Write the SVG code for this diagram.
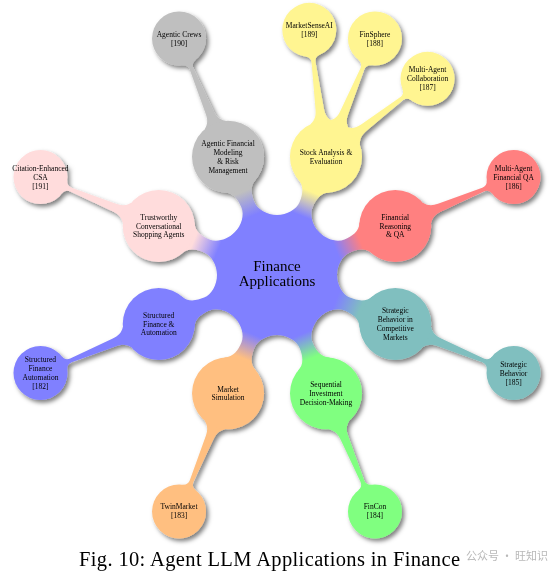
<svg xmlns="http://www.w3.org/2000/svg" xmlns:xlink="http://www.w3.org/1999/xlink" width="555" height="578" viewBox="0 0 555 578">
<style>
.t{font-family:"Liberation Serif","Times New Roman",serif;font-size:7.5px;text-anchor:middle;fill:#000}
.ct{font-family:"Liberation Serif","Times New Roman",serif;font-size:15px;text-anchor:middle;fill:#000}
.cap{font-family:"Liberation Serif","Times New Roman",serif;font-size:20.5px;fill:#000}
.wm{font-family:"Noto Sans CJK SC","Liberation Sans",sans-serif;font-size:11.5px;fill:#9a9a9a;opacity:0.7}
</style>
<defs>
<filter id="sh" filterUnits="userSpaceOnUse" x="0" y="0" width="555" height="578">
<feDropShadow dx="2.5" dy="2.8" stdDeviation="1.9" flood-color="#000" flood-opacity="0.5"/>
</filter>
<path id="c1" d="M55.43,-22.96 C59.3,-13.7 68,-7 76,-7 C84,-7 92.97,-8.83 96.27,-17 L128,0 L96.27,17 C92.97,8.830 84,7 76,7 C68,7 59.3,13.7 55.43,22.96 L0,0 Z"/>
<path id="c2" d="M34.28,-11 C38,-6 42,-4.5 48,-4.2 L95,-2 C98.5,-2 100.8,-3.5 101.92,-7 L128,0 L101.92,7 C100.8,3.5 98.5,2 95,2 L48,4.2 C42,4.5 38,6 34.28,11 L0,0 Z"/>
<linearGradient id="gR" gradientUnits="userSpaceOnUse" x1="64" y1="0" x2="90" y2="0"><stop offset="0" stop-color="#8080ff"/><stop offset="1" stop-color="#ff8080"/></linearGradient>
<linearGradient id="gY" gradientUnits="userSpaceOnUse" x1="64" y1="0" x2="90" y2="0"><stop offset="0" stop-color="#8080ff"/><stop offset="1" stop-color="#fff591"/></linearGradient>
<linearGradient id="gK" gradientUnits="userSpaceOnUse" x1="64" y1="0" x2="90" y2="0"><stop offset="0" stop-color="#8080ff"/><stop offset="1" stop-color="#bfbfbf"/></linearGradient>
<linearGradient id="gP" gradientUnits="userSpaceOnUse" x1="64" y1="0" x2="90" y2="0"><stop offset="0" stop-color="#8080ff"/><stop offset="1" stop-color="#ffdcdc"/></linearGradient>
<linearGradient id="gB" gradientUnits="userSpaceOnUse" x1="64" y1="0" x2="90" y2="0"><stop offset="0" stop-color="#8080ff"/><stop offset="1" stop-color="#8080ff"/></linearGradient>
<linearGradient id="gO" gradientUnits="userSpaceOnUse" x1="64" y1="0" x2="90" y2="0"><stop offset="0" stop-color="#8080ff"/><stop offset="1" stop-color="#ffbf80"/></linearGradient>
<linearGradient id="gG" gradientUnits="userSpaceOnUse" x1="64" y1="0" x2="90" y2="0"><stop offset="0" stop-color="#8080ff"/><stop offset="1" stop-color="#80ff80"/></linearGradient>
<linearGradient id="gT" gradientUnits="userSpaceOnUse" x1="64" y1="0" x2="90" y2="0"><stop offset="0" stop-color="#8080ff"/><stop offset="1" stop-color="#80bfbf"/></linearGradient>
</defs>
<rect width="555" height="578" fill="#fff"/>
<g filter="url(#sh)">
<g id="connectors">
<use xlink:href="#c1" transform="translate(277 275) rotate(-22.5)" fill="url(#gR)"/>
<use xlink:href="#c1" transform="translate(277 275) rotate(-67.5)" fill="url(#gY)"/>
<use xlink:href="#c1" transform="translate(277 275) rotate(-112.5)" fill="url(#gK)"/>
<use xlink:href="#c1" transform="translate(277 275) rotate(-157.5)" fill="url(#gP)"/>
<use xlink:href="#c1" transform="translate(277 275) rotate(157.5)" fill="url(#gB)"/>
<use xlink:href="#c1" transform="translate(277 275) rotate(112.5)" fill="url(#gO)"/>
<use xlink:href="#c1" transform="translate(277 275) rotate(67.5)" fill="url(#gG)"/>
<use xlink:href="#c1" transform="translate(277 275) rotate(22.5)" fill="url(#gT)"/>
<use xlink:href="#c2" transform="translate(228.02 156.74) rotate(-112.5)" fill="#bfbfbf"/>
<use xlink:href="#c2" transform="translate(158.74 226.02) rotate(-157.5)" fill="#ffdcdc"/>
<use xlink:href="#c2" transform="translate(325.98 156.74) rotate(-97.5)" fill="#fff591"/>
<use xlink:href="#c2" transform="translate(325.98 156.74) rotate(-67.5)" fill="#fff591"/>
<use xlink:href="#c2" transform="translate(325.98 156.74) rotate(-37.5)" fill="#fff591"/>
<use xlink:href="#c2" transform="translate(395.26 226.02) rotate(-22.5)" fill="#ff8080"/>
<use xlink:href="#c2" transform="translate(395.26 323.98) rotate(22.5)" fill="#80bfbf"/>
<use xlink:href="#c2" transform="translate(325.98 393.26) rotate(67.5)" fill="#80ff80"/>
<use xlink:href="#c2" transform="translate(228.02 393.26) rotate(112.5)" fill="#ffbf80"/>
<use xlink:href="#c2" transform="translate(158.74 323.98) rotate(157.5)" fill="#8080ff"/>
</g>
<g id="center">
<circle cx="277" cy="275" r="60" fill="#8080ff"/>
<text class="ct"><tspan x="277" y="271">Finance</tspan><tspan x="277" y="285.5">Applications</tspan></text>
</g>
<g id="n-modeling">
<circle cx="228.02" cy="156.74" r="36" fill="#bfbfbf"/>
<text class="t"><tspan x="228.02" y="146.1">Agentic Financial</tspan><tspan x="228.02" y="154.9">Modeling</tspan><tspan x="228.02" y="163.7">&amp; Risk</tspan><tspan x="228.02" y="172.5">Management</tspan></text>
</g>
<g id="n-stock">
<circle cx="325.98" cy="156.74" r="36" fill="#fff591"/>
<text class="t"><tspan x="325.98" y="154.9">Stock Analysis &amp;</tspan><tspan x="325.98" y="163.7">Evaluation</tspan></text>
</g>
<g id="n-reasoning">
<circle cx="395.26" cy="226.02" r="36" fill="#ff8080"/>
<text class="t"><tspan x="395.26" y="219.8">Financial</tspan><tspan x="395.26" y="228.6">Reasoning</tspan><tspan x="395.26" y="237.4">&amp; QA</tspan></text>
</g>
<g id="n-shopping">
<circle cx="158.74" cy="226.02" r="36" fill="#ffdcdc"/>
<text class="t"><tspan x="158.74" y="219.8">Trustworthy</tspan><tspan x="158.74" y="228.6">Conversational</tspan><tspan x="158.74" y="237.4">Shopping Agents</tspan></text>
</g>
<g id="n-structured">
<circle cx="158.74" cy="323.98" r="36" fill="#8080ff"/>
<text class="t"><tspan x="158.74" y="317.8">Structured</tspan><tspan x="158.74" y="326.6">Finance &amp;</tspan><tspan x="158.74" y="335.4">Automation</tspan></text>
</g>
<g id="n-strategic">
<circle cx="395.26" cy="323.98" r="36" fill="#80bfbf"/>
<text class="t"><tspan x="395.26" y="313.4">Strategic</tspan><tspan x="395.26" y="322.2">Behavior in</tspan><tspan x="395.26" y="331">Competitive</tspan><tspan x="395.26" y="339.8">Markets</tspan></text>
</g>
<g id="n-market">
<circle cx="228.02" cy="393.26" r="36" fill="#ffbf80"/>
<text class="t"><tspan x="228.02" y="391.5">Market</tspan><tspan x="228.02" y="400.3">Simulation</tspan></text>
</g>
<g id="n-sequential">
<circle cx="325.98" cy="393.26" r="36" fill="#80ff80"/>
<text class="t"><tspan x="325.98" y="387.1">Sequential</tspan><tspan x="325.98" y="395.9">Investment</tspan><tspan x="325.98" y="404.7">Decision-Making</tspan></text>
</g>
<g id="n-crews">
<circle cx="179.04" cy="38.48" r="27" fill="#bfbfbf"/>
<text class="t"><tspan x="179.04" y="36.6">Agentic Crews</tspan><tspan x="179.04" y="45.6">[190]</tspan></text>
</g>
<g id="n-csa">
<circle cx="40.48" cy="177.04" r="27" fill="#ffdcdc"/>
<text class="t"><tspan x="40.48" y="170.6">Citation-Enhanced</tspan><tspan x="40.48" y="179.6">CSA</tspan><tspan x="40.48" y="188.6">[191]</tspan></text>
</g>
<g id="n-marketsense">
<circle cx="309.27" cy="29.84" r="27" fill="#fff591"/>
<text class="t"><tspan x="309.27" y="27.9">MarketSenseAI</tspan><tspan x="309.27" y="36.9">[189]</tspan></text>
</g>
<g id="n-finsphere">
<circle cx="374.96" cy="38.48" r="27" fill="#fff591"/>
<text class="t"><tspan x="374.96" y="36.6">FinSphere</tspan><tspan x="374.96" y="45.6">[188]</tspan></text>
</g>
<g id="n-collab">
<circle cx="427.53" cy="78.82" r="27" fill="#fff591"/>
<text class="t"><tspan x="427.53" y="72.4">Multi-Agent</tspan><tspan x="427.53" y="81.4">Collaboration</tspan><tspan x="427.53" y="90.4">[187]</tspan></text>
</g>
<g id="n-mafqa">
<circle cx="513.52" cy="177.04" r="27" fill="#ff8080"/>
<text class="t"><tspan x="513.52" y="170.6">Multi-Agent</tspan><tspan x="513.52" y="179.6">Financial QA</tspan><tspan x="513.52" y="188.6">[186]</tspan></text>
</g>
<g id="n-sb">
<circle cx="513.52" cy="372.96" r="27" fill="#80bfbf"/>
<text class="t"><tspan x="513.52" y="366.6">Strategic</tspan><tspan x="513.52" y="375.6">Behavior</tspan><tspan x="513.52" y="384.6">[185]</tspan></text>
</g>
<g id="n-fincon">
<circle cx="374.96" cy="511.52" r="27" fill="#80ff80"/>
<text class="t"><tspan x="374.96" y="509.1">FinCon</tspan><tspan x="374.96" y="518.1">[184]</tspan></text>
</g>
<g id="n-twin">
<circle cx="179.04" cy="511.52" r="27" fill="#ffbf80"/>
<text class="t"><tspan x="179.04" y="509.1">TwinMarket</tspan><tspan x="179.04" y="518.1">[183]</tspan></text>
</g>
<g id="n-sfa">
<circle cx="40.48" cy="372.96" r="27" fill="#8080ff"/>
<text class="t"><tspan x="40.48" y="362.1">Structured</tspan><tspan x="40.48" y="371.1">Finance</tspan><tspan x="40.48" y="380.1">Automation</tspan><tspan x="40.48" y="389.1">[182]</tspan></text>
</g>
</g>
<text class="cap" x="79" y="566" textLength="381" lengthAdjust="spacing">Fig. 10: Agent LLM Applications in Finance</text>
<text class="wm" x="466" y="560" textLength="82" lengthAdjust="spacingAndGlyphs">公众号 · 旺知识</text>
</svg>
